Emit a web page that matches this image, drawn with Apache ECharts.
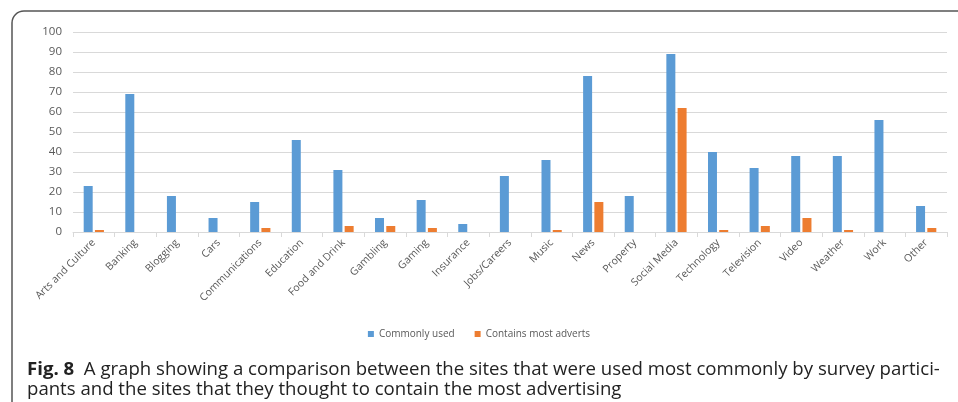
<!DOCTYPE html>
<html>
<head>
<meta charset="utf-8">
<script src="https://cdn.jsdelivr.net/npm/echarts@6/dist/echarts.min.js"></script>
<style>
  html, body { margin: 0; padding: 0; background: #fff; }
  #main { width: 958px; height: 402px; }
</style>
</head>
<body>
<div id="main"></div>
<script>
// categories and values
const categories = ['Arts and Culture', 'Banking', 'Blogging', 'Cars', 'Communications', 'Education',
  'Food and Drink', 'Gambling', 'Gaming', 'Insurance', 'Jobs/Careers', 'Music', 'News', 'Property',
  'Social Media', 'Technology', 'Television', 'Video', 'Weather', 'Work', 'Other']
const commonlyUsed = [23, 69, 18, 7, 15, 46, 31, 7, 16, 4, 28, 36, 78, 18, 89, 40, 32, 38, 38, 56, 13]
const mostAdverts = [1, 0, 0, 0, 2, 0, 3, 3, 2, 0, 0, 1, 15, 0, 62, 1, 3, 7, 1, 0, 2]
const yTicks = { min: 0, max: 100, interval: 10 }

const chart = echarts.init(document.getElementById('main'), null, { renderer: 'canvas' })
const font = '"Open Sans", "Noto Sans", sans-serif'

chart.setOption({
  animation: false,
  textStyle: { fontFamily: font },
  title: {
    left: 22,
    top: 355,
    text: '{b|Fig. 8}  A graph showing a comparison between the sites that were used most commonly by survey partici-\npants and the sites that they thought to contain the most advertising',
    textStyle: {
      fontFamily: font,
      fontSize: 18.6,
      fontWeight: 'normal',
      color: '#222',
      lineHeight: 20,
      rich: {
        b: { fontFamily: font, fontSize: 18.6, fontWeight: 'bold', color: '#222', lineHeight: 20 }
      }
    }
  },
  graphic: [{
    type: 'rect',
    shape: { x: 12, y: 11, width: 960, height: 400, r: [12, 0, 0, 0] },
    style: { fill: 'none', stroke: '#555', lineWidth: 1.5 },
    silent: true
  }],
  legend: {
    top: 324,
    left: 'center',
    itemWidth: 6,
    itemHeight: 6,
    itemGap: 20,
    icon: 'rect',
    textStyle: { fontFamily: font, fontSize: 10, color: '#595959' },
    data: ['Commonly used', 'Contains most adverts']
  },
  grid: { left: 73, right: 11, top: 32, bottom: 170 },
  xAxis: {
    type: 'category',
    data: categories,
    axisLine: { lineStyle: { color: '#d9d9d9' } },
    axisTick: { show: true, alignWithLabel: false, length: 5, lineStyle: { color: '#d9d9d9' } },
    axisLabel: { interval: 0, rotate: 45, fontSize: 10.5, color: '#595959', margin: 9, fontFamily: font }
  },
  yAxis: {
    type: 'value',
    min: yTicks.min,
    max: yTicks.max,
    interval: yTicks.interval,
    axisLine: { show: false },
    axisTick: { show: false },
    splitLine: { lineStyle: { color: '#d9d9d9' } },
    axisLabel: { fontSize: 11.5, color: '#595959', margin: 11, fontFamily: font }
  },
  series: [
    {
      name: 'Commonly used',
      type: 'bar',
      data: commonlyUsed,
      barWidth: 9,
      barGap: '25%',
      itemStyle: { color: '#5b9bd5' }
    },
    {
      name: 'Contains most adverts',
      type: 'bar',
      data: mostAdverts,
      barWidth: 9,
      itemStyle: { color: '#ed7d31' }
    }
  ]
})
</script>
</body>
</html>
